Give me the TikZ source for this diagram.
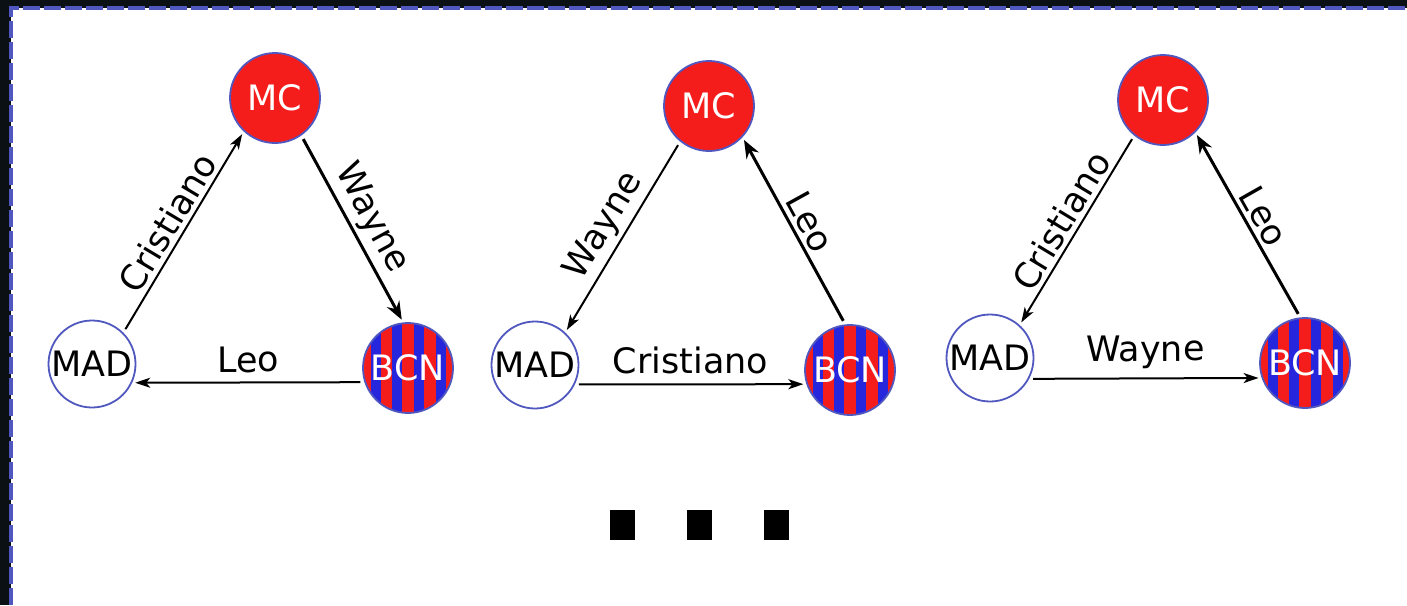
\documentclass[tikz,border=0pt]{standalone}
\usepackage{fontspec}
\setmainfont{DejaVu Sans}
\usetikzlibrary{arrows.meta}
\definecolor{frameblue}{HTML}{5058C0}
\definecolor{mcred}{HTML}{F51C1C}
\definecolor{bcnblue}{HTML}{2626DC}
\definecolor{darkbg}{HTML}{0B1014}
\newcommand\bcnstripes[1]{%
  \begin{scope}[shift={#1}]
    \clip (0,0) circle (45);
    \fill[mcred] (-46,-46) rectangle (46,46);
    \foreach \sa/\sb in {-37.5/-27.5,-15.8/-5.8,5.8/15.8,27.5/37.5}
      \fill[bcnblue] (\sa,-46) rectangle (\sb,46);
  \end{scope}}
\begin{document}
\begin{tikzpicture}[x=1pt,y=-1pt,
  font=\fontsize{35}{42}\selectfont,
  team/.style={circle, draw=frameblue, line width=1.8pt, inner sep=0pt, minimum size=90pt},
  mad/.style={team, minimum size=87pt, fill=white, text=black},
  mc/.style={team, fill=mcred, text=white},
  bcn/.style={team, text=white},
  thinarrow/.style={line width=2pt, -{Stealth[length=15pt,width=10pt,inset=4pt]}, shorten >=3pt, shorten <=4pt},
  thickarrow/.style={line width=3pt, -{Stealth[length=18pt,width=14pt]}, shorten >=3pt, shorten <=4pt},
  lab/.style={midway, sloped, above, inner sep=4pt, text=black},
  labh/.style={lab, inner sep=9pt}
]
\useasboundingbox (0,0) rectangle (1407,605);
% background
\fill[darkbg] (0,0) rectangle (1407,605);
\fill[white] (11,8) rectangle (1407,605);
\draw[frameblue, line width=3.5pt, dash pattern=on 17pt off 4pt] (11,605) -- (11,8) -- (1407,8);

% stripes of the BCN discs
\bcnstripes{(408,368)}
\bcnstripes{(850,370)}
\bcnstripes{(1305,363)}

% panel 1
\node[mc]  (mc1)  at (275,98)  {MC};
\node[mad] (mad1) at (92,364)  {MAD};
\node[bcn] (bcn1) at (408,368) {BCN};
\draw[thinarrow]  (mad1.45)  -- node[lab] {Cristiano} (mc1.227);
\draw[thickarrow] (mc1.305)  -- node[lab] {Wayne} (bcn1.96);
\draw[thinarrow]  (bcn1.198.1) -- node[labh] {Leo} (mad1.335.6);

% panel 2
\node[mc]  (mc2)  at (709,106) {MC};
\node[mad] (mad2) at (535,365) {MAD};
\node[bcn] (bcn2) at (850,370) {BCN};
\draw[thinarrow]  (mc2.231)  -- node[lab] {Wayne} (mad2.47);
\draw[thickarrow] (bcn2.96)  -- node[lab] {Leo} (mc2.317);
\draw[thinarrow]  (mad2.334.1) -- node[labh] {Cristiano} (bcn2.198.1);

% panel 3
\node[mc]  (mc3)  at (1163,100) {MC};
\node[mad] (mad3) at (990,358)  {MAD};
\node[bcn] (bcn3) at (1305,363) {BCN};
\draw[thinarrow]  (mc3.231)  -- node[lab] {Cristiano} (mad3.48);
\draw[thickarrow] (bcn3.96)  -- node[lab] {Leo} (mc3.315);
\draw[thinarrow]  (mad3.332.6) -- node[labh] {Wayne} (bcn3.199.5);

% ellipsis squares
\fill[black] (610,510) rectangle (635,540);
\fill[black] (687,510) rectangle (712,540);
\fill[black] (764,510) rectangle (789,540);
\end{tikzpicture}
\end{document}
